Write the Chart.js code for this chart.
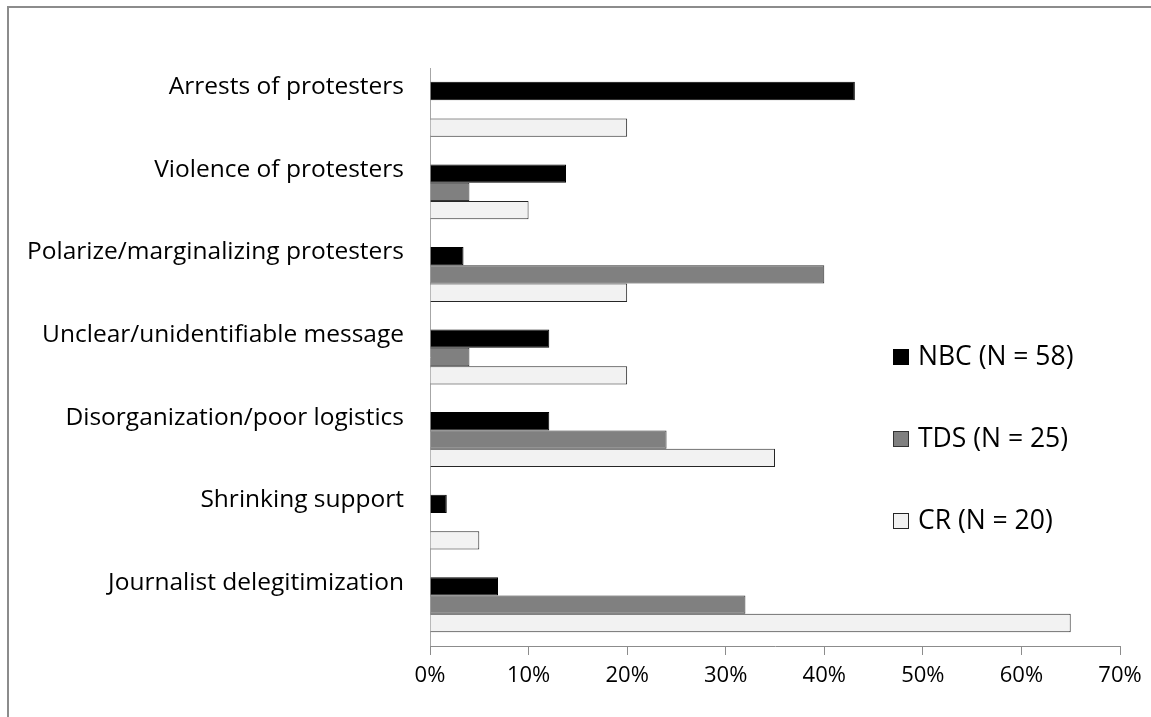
<!DOCTYPE html>
<html>
<head>
<meta charset="utf-8">
<script src="https://cdn.jsdelivr.net/npm/chart.js@4.4.1/dist/chart.umd.min.js"></script>
<style>
  html, body { margin: 0; padding: 0; background: #fff; }
  #wrap { position: relative; width: 1151px; height: 717px; overflow: hidden; }
  #frame { position: absolute; left: 7px; top: 6px; width: 1200px; height: 800px;
           border-top: 2px solid #8c8c8c; border-left: 2px solid #8c8c8c; }
  canvas { position: absolute; left: 0; top: 0; }
</style>
</head>
<body>
<div id="wrap">
  <div id="frame"></div>
  <canvas id="chart" width="1151" height="717"></canvas>
</div>
<script>
// Categories (top to bottom)
const categories = [
  'Arrests of protesters',
  'Violence of protesters',
  'Polarize/marginalizing protesters',
  'Unclear/unidentifiable message',
  'Disorganization/poor logistics',
  'Shrinking support',
  'Journalist delegitimization'
];

// Share of items per outlet, in percent
const nbcValues = [43.1, 13.8, 3.4, 12.1, 12.1, 1.7, 6.9];
const tdsValues = [0, 4, 40, 4, 24, 0, 32];
const crValues  = [20, 10, 20, 20, 35, 5, 65];

const seriesNames = ['NBC (N = 58)', 'TDS (N = 25)', 'CR (N = 20)'];

// Horizontal axis range and step (percent)
const axisMin = 0;
const axisMax = 70;
const axisStep = 10;

const FONT = '"Open Sans", Lato, sans-serif';

// Legend drawn inside the plot area, stacked vertically
const insideLegend = {
  id: 'insideLegend',
  afterDraw(chart) {
    const ctx = chart.ctx;
    const x0 = 893, y0 = 357, gap = 82, box = 16;
    ctx.save();
    ctx.font = '26.5px ' + FONT;
    ctx.textBaseline = 'middle';
    ctx.textAlign = 'left';
    chart.data.datasets.forEach((ds, i) => {
      const y = y0 + i * gap;
      ctx.fillStyle = ds.backgroundColor;
      ctx.fillRect(x0, y - box / 2, box, box);
      ctx.strokeStyle = ds.borderColor;
      ctx.lineWidth = 1;
      ctx.strokeRect(x0 + 0.5, y - box / 2 + 0.5, box - 1, box - 1);
      ctx.fillStyle = '#000';
      ctx.fillText(ds.label, x0 + 25, y);
    });
    ctx.restore();
  }
};

new Chart(document.getElementById('chart'), {
  type: 'bar',
  data: {
    labels: categories,
    datasets: [
      { label: seriesNames[0], data: nbcValues, backgroundColor: '#000000', borderColor: '#000000', borderWidth: 1 },
      { label: seriesNames[1], data: tdsValues, backgroundColor: '#808080', borderColor: '#333333', borderWidth: 1 },
      { label: seriesNames[2], data: crValues,  backgroundColor: '#f2f2f2', borderColor: '#262626', borderWidth: 1 }
    ]
  },
  options: {
    indexAxis: 'y',
    responsive: false,
    animation: false,
    devicePixelRatio: 1,
    layout: { padding: { top: 68, right: 31, bottom: 0, left: 0 } },
    datasets: { bar: { categoryPercentage: 0.665, barPercentage: 1.0 } },
    plugins: {
      legend: { display: false },
      tooltip: { enabled: false }
    },
    scales: {
      y: {
        type: 'category',
        afterFit(scale) { scale.width = 430; },
        ticks: {
          autoSkip: false,
          color: '#000',
          font: { family: FONT, size: 24.5 },
          padding: 26,
          labelOffset: -22
        },
        grid: { display: true, drawOnChartArea: false, drawTicks: false },
        border: { display: true, color: '#a6a6a6', width: 1 }
      },
      x: {
        min: axisMin,
        max: axisMax,
        afterFit(scale) { scale.height = 71; },
        ticks: {
          stepSize: axisStep,
          color: '#000',
          font: { family: FONT, size: 22 },
          padding: 8,
          callback: v => v + '%'
        },
        grid: { display: true, drawOnChartArea: false, drawTicks: true, tickLength: 9, color: '#8c8c8c' },
        border: { display: true, color: '#8c8c8c', width: 1 }
      }
    }
  },
  plugins: [insideLegend]
});
</script>
</body>
</html>
